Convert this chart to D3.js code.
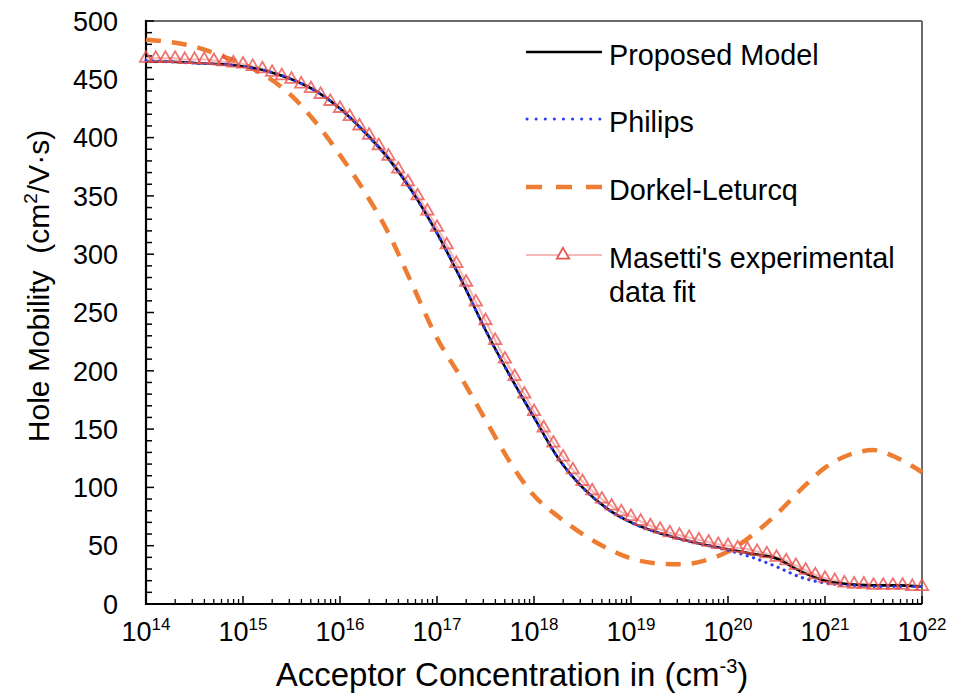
<!DOCTYPE html>
<html>
<head>
<meta charset="utf-8">
<script src="https://cdn.jsdelivr.net/npm/d3@7"></script>
<style>
  html, body { margin: 0; padding: 0; background: #fff; }
  svg { display: block; font-family: "Liberation Sans", Arial, Helvetica, sans-serif; }
</style>
</head>
<body>
<svg id="chart" width="957" height="693"></svg>
<script>
// ---- data (log10 of acceptor concentration, cm^-3) ----
const lineExp = [14.00,14.25,14.50,14.75,15.00,15.25,15.50,15.75,16.00,16.25,16.50,16.75,17.00,17.25,17.50,17.75,
                 18.00,18.25,18.50,18.75,19.00,19.25,19.50,19.75,20.00,20.25,20.50,20.75,21.00,21.25,21.50,21.75,22.00];
const proposed = [465,465,464,463,461,457,450,440,425,405,382,353,318,278,235,196,
                  160,125,100,82,70,62,56,51,47,43,39,28,20,17,16,16,15];
const philips  = [466,465,464,463,461,457,450,440,425,405,382,353,318,278,235,196,
                  160,125,100,82,70,62,56,51,46,40,32,23,18,16,15,15,15];
const dorkel   = [484,482,478,471,463,452,436,413,385,354,318,273,228,194,158,122,
                  93,75,60,48,39,35,34,37,45,59,77,98,117,128,132,125,113];

const masettiExp = [14.0,14.1,14.2,14.3,14.4,14.5,14.6,14.7,14.8,14.9,15.0,15.1,15.2,15.3,15.4,15.5,15.6,15.7,15.8,15.9,
                    16.0,16.1,16.2,16.3,16.4,16.5,16.6,16.7,16.8,16.9,17.0,17.1,17.2,17.3,17.4,17.5,17.6,17.7,17.8,17.9,
                    18.0,18.1,18.2,18.3,18.4,18.5,18.6,18.7,18.8,18.9,19.0,19.1,19.2,19.3,19.4,19.5,19.6,19.7,19.8,19.9,
                    20.0,20.1,20.2,20.3,20.4,20.5,20.6,20.7,20.8,20.9,21.0,21.1,21.2,21.3,21.4,21.5,21.6,21.7,21.8,21.9,22.0];
const masetti = [468,468,468,468,467,467,467,466,465,464,463,461,459,456,453,450,446,442,437,431,
                 425,418,410,402,393,384,373,362,350,337,323,308,292,276,259,243,226,210,195,180,
                 165,151,138,126,115,105,97,90,84,79,75,71,67,64,61,59,57,55,53,51,
                 50,48,47,45,43,40,37,33,29,25,22,20,18,17,17,16,16,16,16,15,15];

const xDecades = [14,15,16,17,18,19,20,21,22];
const yTicks = [0,50,100,150,200,250,300,350,400,450,500];
const legendNames = ["Proposed Model","Philips","Dorkel-Leturcq","Masetti's experimental"];

// ---- layout ----
const svg = d3.select("#chart");
const L = 146, R = 922, T = 21, B = 604;
const x = d3.scaleLog().domain([1e14, 1e22]).range([L, R]);
const y = d3.scaleLinear().domain([0, 500]).range([B, T]);

const colors = { proposed: "#000000", philips: "#2b3ff0", dorkel: "#ee7d31", masettiLine: "#f6b9b9", masettiMark: "#e8544f" };

// frame (top/right)
svg.append("line").attr("x1", L).attr("x2", R).attr("y1", T).attr("y2", T).attr("stroke", "#6b6b6b").attr("stroke-width", 2);
svg.append("line").attr("x1", R).attr("x2", R).attr("y1", T).attr("y2", B).attr("stroke", "#6b6b6b").attr("stroke-width", 2);

// y ticks (inward, every 10)
const yMinor = d3.range(0, 501, 10);
svg.append("g").selectAll("line").data(yMinor).join("line")
  .attr("x1", L).attr("x2", d => L + (d % 50 === 0 ? 8 : 6))
  .attr("y1", d => y(d)).attr("y2", d => y(d))
  .attr("stroke", "#000").attr("stroke-width", 1.5);

// x ticks (inward)
const xMinor = [];
xDecades.forEach(e => { if (e < 22) for (let k = 2; k <= 9; k++) xMinor.push(k * Math.pow(10, e)); });
svg.append("g").selectAll("line").data(xMinor).join("line")
  .attr("x1", d => x(d)).attr("x2", d => x(d)).attr("y1", B).attr("y2", B - 5)
  .attr("stroke", "#000").attr("stroke-width", 1.3);
svg.append("g").selectAll("line").data(xDecades).join("line")
  .attr("x1", d => x(Math.pow(10, d))).attr("x2", d => x(Math.pow(10, d))).attr("y1", B).attr("y2", B - 8)
  .attr("stroke", "#000").attr("stroke-width", 1.5);

// axis lines
svg.append("line").attr("x1", L).attr("x2", L).attr("y1", T - 1).attr("y2", B + 1).attr("stroke", "#000").attr("stroke-width", 2.2);
svg.append("line").attr("x1", L - 1).attr("x2", R).attr("y1", B).attr("y2", B).attr("stroke", "#000").attr("stroke-width", 2.2);

// y tick labels
svg.append("g").selectAll("text").data(yTicks).join("text")
  .attr("x", 118).attr("y", d => y(d)).attr("dy", "0.36em")
  .attr("text-anchor", "end").attr("font-size", 27).attr("fill", "#000")
  .text(d => d);

// x tick labels 10^n
const xl = svg.append("g").selectAll("text").data(xDecades).join("text")
  .attr("x", d => x(Math.pow(10, d))).attr("y", 641)
  .attr("text-anchor", "middle").attr("font-size", 27).attr("fill", "#000");
xl.append("tspan").text("10");
xl.append("tspan").attr("font-size", 17).attr("dy", -11).text(d => d);

// axis titles
const xt = svg.append("text").attr("x", 512).attr("y", 686).attr("text-anchor", "middle")
  .attr("font-size", 33).attr("fill", "#000");
xt.append("tspan").text("Acceptor Concentration in (cm");
xt.append("tspan").attr("font-size", 20).attr("dy", -13).text("-3");
xt.append("tspan").attr("dy", 13).text(")");

const yt = svg.append("text").attr("transform", "translate(49,286) rotate(-90)").attr("text-anchor", "middle")
  .attr("font-size", 30).attr("fill", "#000");
yt.append("tspan").text("Hole Mobility\u00a0\u00a0(cm");
yt.append("tspan").attr("font-size", 19).attr("dy", -12).text("2");
yt.append("tspan").attr("dy", 12).text("/V\u00b7s)");

// ---- series ----
const lineGen = (vals, exps) => d3.line()
  .x((d, i) => x(Math.pow(10, exps[i])))
  .y(d => y(d))
  .curve(d3.curveMonotoneX)(vals);

svg.append("path").attr("d", lineGen(masetti, masettiExp)).attr("fill", "none")
  .attr("stroke", colors.masettiLine).attr("stroke-width", 2.2);

svg.append("path").attr("d", lineGen(dorkel, lineExp)).attr("fill", "none")
  .attr("stroke", colors.dorkel).attr("stroke-width", 4.5).attr("stroke-dasharray", "15,11");

svg.append("path").attr("d", lineGen(proposed, lineExp)).attr("fill", "none")
  .attr("stroke", colors.proposed).attr("stroke-width", 2.6);

svg.append("path").attr("d", lineGen(philips, lineExp)).attr("fill", "none")
  .attr("stroke", colors.philips).attr("stroke-width", 3.2).attr("stroke-dasharray", "0.1,6.5").attr("stroke-linecap", "round");

const tri = d3.symbol().type(d3.symbolTriangle).size(66);
svg.append("g").selectAll("path").data(masetti).join("path")
  .attr("d", tri)
  .attr("transform", (d, i) => `translate(${x(Math.pow(10, masettiExp[i]))},${y(d)})`)
  .attr("fill", "none").attr("stroke", colors.masettiMark).attr("stroke-width", 1.8).attr("stroke-opacity", 0.8);

// ---- legend ----
const lg = svg.append("g");
const lx1 = 526, lx2 = 602, tx = 609;
const rows = [52, 119, 187, 255];
lg.append("line").attr("x1", lx1).attr("x2", lx2).attr("y1", rows[0]).attr("y2", rows[0])
  .attr("stroke", colors.proposed).attr("stroke-width", 2.6);
lg.append("line").attr("x1", lx1 + 1).attr("x2", lx2).attr("y1", rows[1]).attr("y2", rows[1])
  .attr("stroke", colors.philips).attr("stroke-width", 3).attr("stroke-dasharray", "0.1,9").attr("stroke-linecap", "round");
lg.append("line").attr("x1", lx1).attr("x2", lx2).attr("y1", rows[2]).attr("y2", rows[2])
  .attr("stroke", colors.dorkel).attr("stroke-width", 4.5).attr("stroke-dasharray", "16,14");
lg.append("line").attr("x1", lx1).attr("x2", lx2).attr("y1", rows[3]).attr("y2", rows[3])
  .attr("stroke", colors.masettiLine).attr("stroke-width", 2.2);
lg.append("path").attr("d", tri).attr("transform", `translate(563,${rows[3]})`)
  .attr("fill", "#fff").attr("stroke", colors.masettiMark).attr("stroke-width", 1.8);

lg.selectAll("text.lt").data(legendNames).join("text").attr("class", "lt")
  .attr("x", tx).attr("y", (d, i) => rows[i] + 13)
  .attr("font-size", 28.8).attr("fill", "#000").text(d => d);
lg.append("text").attr("x", tx).attr("y", rows[3] + 47).attr("font-size", 28.8).attr("fill", "#000").text("data fit");
</script>
</body>
</html>
